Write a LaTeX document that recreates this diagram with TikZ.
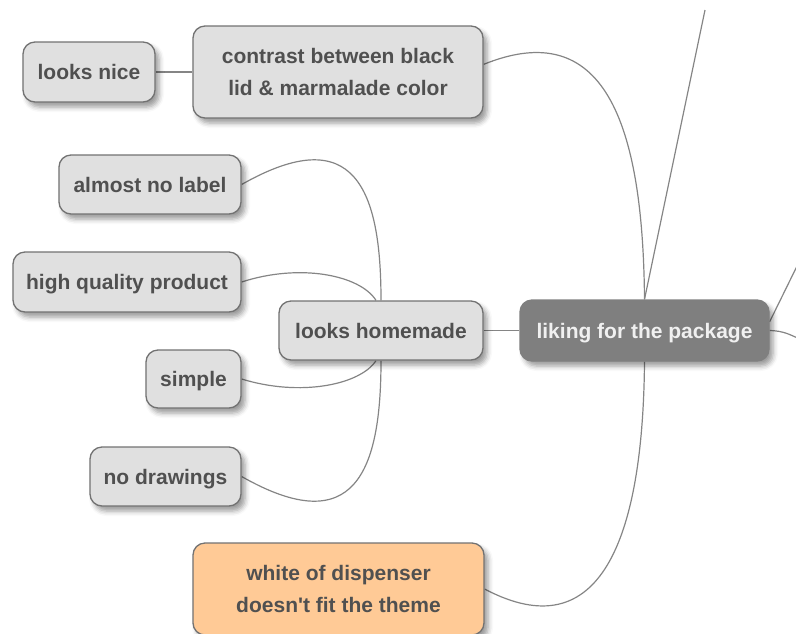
\documentclass[tikz,border=0pt]{standalone}
\usepackage{fontspec}
\setmainfont{Liberation Sans}
\usetikzlibrary{shadows.blur}
\definecolor{boxfill}{HTML}{E0E0E0}
\definecolor{boxline}{HTML}{727272}
\definecolor{txt}{HTML}{505050}
\definecolor{linkc}{HTML}{858585}
\definecolor{centerfill}{HTML}{7F7F7F}
\definecolor{warnfill}{HTML}{FFCA96}
\pgfdeclarelayer{background}
\pgfsetlayers{background,main}
\begin{document}
\begin{tikzpicture}[x=1pt,y=-1pt,
  topic/.style={draw=boxline, line width=1.3pt, rounded corners=12pt,
    fill=boxfill, text=txt, font=\bfseries\fontsize{21}{32}\selectfont,
    align=center, inner sep=0pt, text depth=0pt,
    blur shadow={shadow xshift=4pt, shadow yshift=-5pt,
      shadow blur radius=5pt, shadow opacity=40}},
  central/.style={topic, draw=centerfill, fill=centerfill, text=white!94!black},
  warn/.style={topic, fill=warnfill},
  link/.style={draw=linkc, line width=1.2pt}]
\useasboundingbox (0,0) rectangle (796,633);
\clip (0,0) rectangle (796,633);

% topics
\node[central, minimum width=249pt, minimum height=61pt] (liking) at (644.5,330.5) {liking for the package};
\node[topic, minimum width=290pt, minimum height=92pt] (contrast) at (338,72) {contrast between black\\lid \& marmalade color};
\node[topic, minimum width=132pt, minimum height=60pt] (nice) at (89,72) {looks nice};
\node[topic, minimum width=204pt, minimum height=59pt] (homemade) at (381,330.5) {looks homemade};
\node[topic, minimum width=182pt, minimum height=59pt] (label) at (150,184.5) {almost no label};
\node[topic, minimum width=228pt, minimum height=60pt] (quality) at (127,282) {high quality product};
\node[topic, minimum width=95pt, minimum height=58pt] (simple) at (193.5,379) {simple};
\node[topic, minimum width=151pt, minimum height=59pt] (drawings) at (165.5,476.5) {no drawings};
\node[warn, minimum width=291pt, minimum height=92pt] (white) at (338.5,589) {white of dispenser\\doesn\textquotesingle t fit the theme};

% free ends of branches leading out of view
\coordinate (upbranch) at (705,10);
\coordinate (rightup) at (800,260);
\coordinate (rightdown) at (800,339);

% connectors
\begin{pgfonlayer}{background}
\draw[link] (nice.east) -- (contrast.west);
\draw[link] (homemade.east) -- (liking.west);
\draw[link] (liking.north) .. controls (643,120) and (603,16) .. (contrast.3);
\draw[link] (liking.north) -- (upbranch);
\draw[link] (liking.4) -- (rightup);
\draw[link] (liking.east) .. controls (785,331) and (790,335) .. (rightdown);
\draw[link] (liking.south) .. controls (643,540) and (600,650) .. (white.east);
\draw[link] (homemade.north) .. controls (381,190) and (355,120) .. (label.east);
\draw[link] (homemade.north) ++(-5,0) coordinate (hq) (hq) .. controls (360,275) and (300,263) .. (quality.east);
\draw[link] (homemade.south) ++(-5,0) coordinate (hs) (hs) .. controls (360,385) and (300,397) .. (simple.east);
\draw[link] (homemade.south) .. controls (381,471) and (355,541) .. (drawings.east);
\end{pgfonlayer}
\end{tikzpicture}
\end{document}
